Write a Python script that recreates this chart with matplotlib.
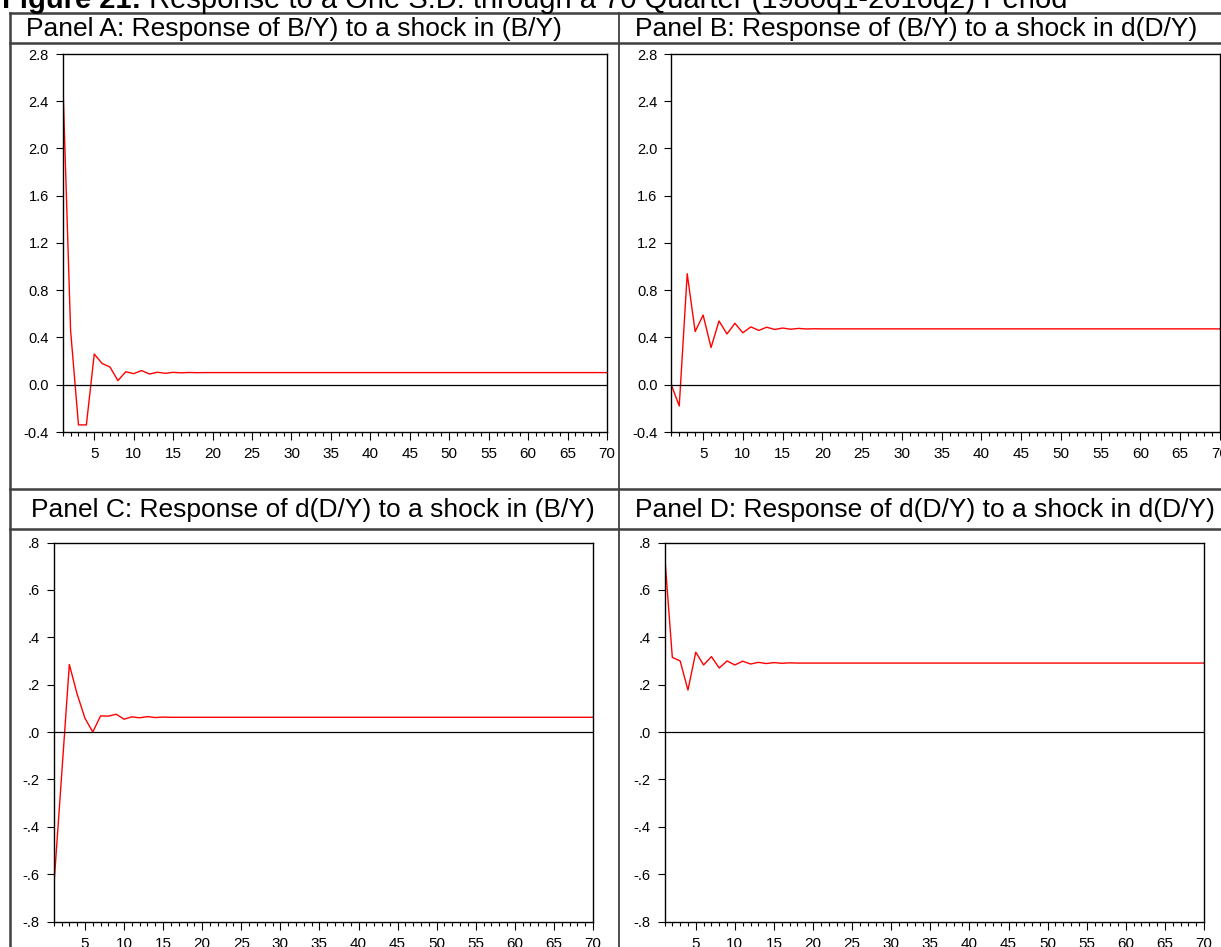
import numpy as np
import matplotlib.pyplot as plt

plt.rcParams['font.family'] = ['Liberation Sans', 'DejaVu Sans']

W, H = 1221, 947  # Bildgroesse in Pixel (dpi 100)

periods = np.arange(1, 71)  # Quartale 1..70

# Impulsantworten (danach konstant)
resp_a = [2.60, 0.46, -0.34, -0.34, 0.26, 0.18, 0.15, 0.035, 0.11, 0.094,
          0.12, 0.091, 0.106, 0.097, 0.105, 0.101, 0.104, 0.102] + [0.103] * 52
resp_b = [0.0, -0.18, 0.94, 0.45, 0.59, 0.315, 0.54, 0.43, 0.52, 0.44,
          0.49, 0.46, 0.487, 0.468, 0.48, 0.47, 0.477, 0.472, 0.474] + [0.473] * 51
resp_c = [-0.66, -0.19, 0.285, 0.16, 0.058, 0.0, 0.068, 0.067, 0.075, 0.054,
          0.064, 0.06, 0.065, 0.061, 0.063, 0.062] + [0.062] * 54
resp_d = [0.755, 0.315, 0.30, 0.177, 0.337, 0.283, 0.318, 0.27, 0.30, 0.283,
          0.299, 0.287, 0.294, 0.289, 0.293, 0.290, 0.292] + [0.291] * 53

titles = ['Panel A: Response of B/Y) to a shock in (B/Y)',
          'Panel B: Response of (B/Y) to a shock in d(D/Y)',
          'Panel C: Response of d(D/Y) to a shock in (B/Y)',
          'Panel D: Response of d(D/Y) to a shock in d(D/Y)']

yticks_top = [-0.4, 0.0, 0.4, 0.8, 1.2, 1.6, 2.0, 2.4, 2.8]
ylabels_top = ['-0.4', '0.0', '0.4', '0.8', '1.2', '1.6', '2.0', '2.4', '2.8']
yticks_bot = [-0.8, -0.6, -0.4, -0.2, 0.0, 0.2, 0.4, 0.6, 0.8]
ylabels_bot = ['-.8', '-.6', '-.4', '-.2', '.0', '.2', '.4', '.6', '.8']
xticks = list(range(5, 71, 5))

fig = plt.figure(figsize=(W / 100, H / 100), dpi=100)

# Hintergrund-Achse in Pixelkoordinaten fuer Tabellenlinien und Texte
bg = fig.add_axes([0, 0, 1, 1])
bg.set_xlim(0, W)
bg.set_ylim(H, 0)
bg.axis('off')

lc = '#404040'
for yy in [13, 43, 489, 529]:
    bg.plot([9.5, W], [yy, yy], color=lc, lw=1.8)
bg.plot([9.5, 9.5], [13, H], color=lc, lw=1.8)
bg.plot([619, 619], [13, H], color=lc, lw=1.3)

# Ueberschrift (oben abgeschnitten wie im Original)
t1 = bg.text(2, 8, 'Figure 21:', fontsize=21, fontweight='bold', va='baseline')
r = fig.canvas.get_renderer()
bb = t1.get_window_extent(renderer=r)
bg.text(bb.x1, 8, ' Response to a One S.D. through a 70 Quarter (1980q1-2016q2) Period',
        fontsize=21, va='baseline')

# Panel-Titel
title_pos = [(26, 36), (635, 36), (31, 517), (635, 517)]
for (tx, ty), tt in zip(title_pos, titles):
    bg.text(tx, ty, tt, fontsize=19, va='baseline')


def px_axes(left, top, right, bottom):
    """Achse aus Pixelkoordinaten (oben links Ursprung) anlegen."""
    return fig.add_axes([left / W, 1 - bottom / H, (right - left) / W, (bottom - top) / H])


boxes = [(62.7, 54, 607, 432), (671.3, 54, 1220, 432),
         (53.7, 542.5, 593, 921.5), (664.5, 542.5, 1204, 921.5)]
data = [resp_a, resp_b, resp_c, resp_d]

for i in range(4):
    ax = px_axes(*boxes[i])
    ax.plot(periods, data[i], color='red', lw=1.0)
    ax.axhline(0, color='black', lw=0.9)
    ax.set_xlim(1, 70)
    if i < 2:
        ax.set_ylim(-0.4, 2.8)
        ax.set_yticks(yticks_top)
        ax.set_yticklabels(ylabels_top)
    else:
        ax.set_ylim(-0.8, 0.8)
        ax.set_yticks(yticks_bot)
        ax.set_yticklabels(ylabels_bot)
    ax.set_xticks(xticks)
    ax.set_xticks(periods, minor=True)
    ax.tick_params(axis='x', which='major', length=6, width=0.8, pad=5, labelsize=11)
    ax.tick_params(axis='x', which='minor', length=3, width=0.8)
    ax.tick_params(axis='y', which='both', length=5, width=0.8, pad=5, labelsize=10.5)
    ax.tick_params(axis='y', which='minor', left=False)
    for s in ax.spines.values():
        s.set_linewidth(1.0)

fig.savefig('out.png', dpi=100)
